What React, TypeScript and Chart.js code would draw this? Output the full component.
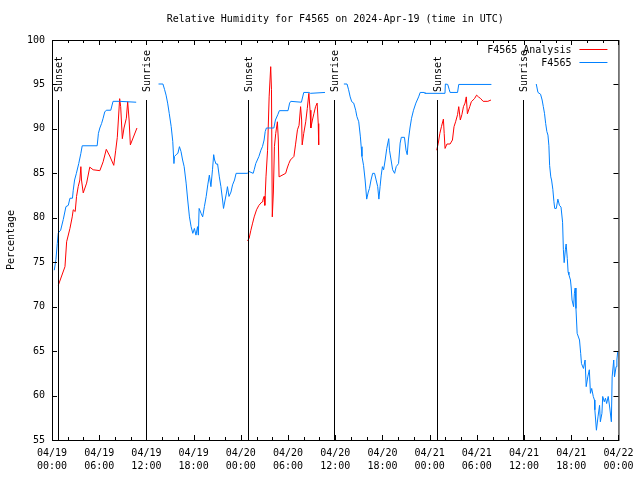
import React, { useEffect, useRef } from 'react';
import { Chart, registerables } from 'chart.js';

Chart.register(...registerables);

const TITLE = 'Relative Humidity for F4565 on 2024-Apr-19 (time in UTC)';
const Y_LABEL = 'Percentage';
const SERIES_NAMES = ['F4565 Analysis', 'F4565'];
const SERIES_COLORS = ['#ff0000', '#0080ff'];
const FONT_FAMILY = '"DejaVu Sans Mono", "Liberation Mono", monospace';

// x axis: hours since 04/19 00:00 UTC
const xTickLabels: string[][] = [
  ['04/19', '00:00'], ['04/19', '06:00'], ['04/19', '12:00'], ['04/19', '18:00'],
  ['04/20', '00:00'], ['04/20', '06:00'], ['04/20', '12:00'], ['04/20', '18:00'],
  ['04/21', '00:00'], ['04/21', '06:00'], ['04/21', '12:00'], ['04/21', '18:00'],
  ['04/22', '00:00'],
];
const X_STEP_HOURS = 6;
const X_MINOR_HOURS = 2;
const Y_MIN = 55;
const Y_MAX = 100;
const Y_STEP = 5;

const eventHours = [0.78, 11.93, 24.85, 35.88, 48.9, 59.92];
const eventLabels = ['Sunset', 'Sunrise', 'Sunset', 'Sunrise', 'Sunset', 'Sunrise'];

// F4565 Analysis (red)
const analysisHours = [
  0.8, 1.65, 1.86, 2.28, 2.57, 2.7, 2.95, 3.12, 3.33, 3.54, 3.67, 3.75, 3.97, 4.4, 4.8, 5.23,
  6.08, 6.5, 6.9, 7.34, 7.85, 8.1, 8.3, 8.6, 8.73, 8.94, 9.15, 9.45, 9.62, 9.8, 9.96, 10.8,
  17,
  24.85, 25.06, 25.28, 25.5, 25.7, 26.0, 26.3, 26.7, 26.8, 26.96, 27.05, 27.2, 27.4, 27.6, 27.8,
  27.9, 28.0, 28.14, 28.27, 28.44, 28.65, 28.77, 28.86, 29.7, 29.9, 30.1, 30.3, 30.75, 30.95,
  31.2, 31.4, 31.6, 31.73, 31.8, 32.0, 32.25, 32.45, 32.65, 32.8, 32.9, 33.1, 33.3, 33.5, 33.7,
  33.84, 33.9,
  41,
  48.9, 49.1, 49.3, 49.5, 49.75, 49.85, 49.96, 50.2, 50.6, 50.9, 51.1, 51.3, 51.55, 51.7, 51.9,
  52.1, 52.3, 52.5, 52.66, 52.8, 53.1, 53.3, 53.7, 53.97, 54.2, 54.5, 54.8, 55.4, 55.8,
];
const analysisValues: (number | null)[] = [
  72.4, 74.5, 77.3, 78.8, 80.1, 80.9, 80.7, 82.4, 83.5, 84.25, 85.75, 84.25, 82.8, 83.9, 85.7, 85.4,
  85.3, 86.3, 87.7, 86.95, 85.9, 87.6, 89.05, 93.4, 92.5, 88.9, 90.1, 91.2, 93.06, 91.0, 88.2, 90.1,
  null,
  77.4, 77.7, 78.6, 79.4, 80.1, 80.9, 81.4, 81.8, 82.0, 82.4, 81.4, 84.6, 87.6, 93.6, 97.0,
  94.4, 80.1, 82.9, 88.0, 89.5, 90.8, 88.75, 84.6, 85.0, 85.6, 86.1, 86.5, 86.9, 88.2,
  89.9, 90.4, 92.5, 91.0, 88.2, 89.5, 90.8, 92.3, 94.0, 92.1, 90.1, 91.0, 91.75, 92.5, 92.9,
  90.6, 88.2,
  null,
  87.6, 88.4, 89.5, 90.25, 91.1, 89.5, 87.8, 88.3, 88.3, 88.75, 90.25, 90.8, 91.6, 92.5, 91.0,
  91.6, 92.5, 92.9, 93.6, 91.7, 92.5, 93.06, 93.4, 93.8, 93.6, 93.4, 93.1, 93.1, 93.25,
];

// F4565 observations (blue)
const stationHours = [
  0.29, 0.5, 0.67, 0.8, 1.1, 1.43, 1.77, 2.07, 2.28, 2.6, 2.7, 2.87, 3.1, 3.4, 3.67, 3.84,
  5.74, 5.9, 6.08, 6.3, 6.5, 6.7, 6.9, 7.47, 7.76, 8.6, 10.7,
  12,
  13.54, 14.1, 14.3, 14.5, 14.7, 14.9, 15.15, 15.35, 15.5, 15.57, 15.78, 16.0, 16.2, 16.4, 16.6,
  16.8, 17.05, 17.25, 17.47, 17.68, 17.9, 18.1, 18.3, 18.5, 18.6, 18.7, 18.95, 19.15, 19.37,
  19.6, 19.8, 20.0, 20.2, 20.4, 20.55, 20.67, 20.85, 21.05, 21.27, 21.47, 21.68, 21.8, 22.0,
  22.2, 22.3, 22.5, 22.75, 22.95, 23.2, 23.4, 24.85, 25.06, 25.57, 25.7, 25.9, 26.1, 26.3,
  26.55, 26.75, 26.96, 27.1, 27.25, 28.2, 28.4, 28.7, 28.9, 30.0, 30.2, 30.35, 31.7, 32.0,
  32.65, 32.85, 34.7,
  36,
  37.1, 37.5, 37.7, 37.9, 38.1, 38.35, 38.6, 38.75, 38.99, 39.2, 39.3, 39.4, 39.6, 39.8, 40.0,
  40.2, 40.35, 40.55, 40.76, 41.0, 41.2, 41.4, 41.55, 41.7, 41.85, 42.0, 42.15, 42.35, 42.55,
  42.8, 42.9, 43.1, 43.3, 43.55, 43.75, 44.05, 44.25, 44.4, 44.8, 45.0, 45.15, 45.3, 45.5,
  45.7, 45.95, 46.25, 46.6, 46.8, 47.3, 47.4, 49.95, 50.0, 50.3, 50.5, 50.6, 51.55, 51.7, 55.85,
  58,
  61.55, 61.77, 62.1, 62.3, 62.45, 62.6, 62.75, 62.9, 63.04, 63.16, 63.25, 63.4, 63.5, 63.66,
  63.8, 63.9, 64.1, 64.3, 64.5, 64.7, 64.9, 65.0, 65.1, 65.25, 65.35, 65.5, 65.6, 65.7, 65.9,
  66.0, 66.1, 66.3, 66.4, 66.5, 66.6, 66.75, 67.05, 67.2, 67.3, 67.55, 67.76, 67.9, 68.1, 68.3,
  68.44, 68.6, 68.8, 68.95, 69.0, 69.2, 69.4, 69.6, 69.7, 69.9, 70.0, 70.2, 70.35, 70.5, 70.7,
  70.9, 71.1, 71.2, 71.4, 71.5, 71.7, 71.8, 71.9,
];
const stationValues: (number | null)[] = [
  74.1, 75.3, 77.1, 78.3, 78.6, 79.8, 81.25, 81.4, 82.2, 82.2, 83.1, 84.25, 85.0, 86.1, 87.25, 88.1,
  88.1, 89.5, 90.1, 90.6, 91.2, 91.9, 92.1, 92.1, 93.1, 93.1, 93.0,
  null,
  95.05, 95.05, 94.45, 93.8, 92.9, 91.75, 90.25, 88.6, 86.1, 86.9, 87.1, 87.25, 88.0, 87.45, 86.5,
  85.75, 83.9, 82.0, 80.1, 79.0, 78.25, 78.8, 78.05, 79.0, 78.05, 81.05, 80.5, 80.1, 81.25,
  82.4, 83.7, 84.8, 83.5, 85.4, 87.1, 86.5, 86.05, 86.05, 84.6, 83.5, 82.0, 81.05, 82.0,
  82.9, 83.5, 82.4, 82.9, 83.7, 84.25, 85.0, 85.0, 85.2, 85.0, 85.4, 86.1, 86.5, 86.9,
  87.6, 88.0, 88.75, 89.7, 90.1, 90.1, 91.0, 91.6, 92.05, 92.05, 92.9, 93.1, 93.0, 94.1,
  94.1, 94.0, 94.1,
  null,
  95.05, 95.05, 94.4, 93.6, 93.06, 92.9, 92.1, 91.4, 90.8, 89.1, 88.0, 86.9, 85.9, 84.25, 82.1,
  82.9, 83.3, 84.25, 85.0, 85.0, 84.25, 83.5, 82.1, 83.5, 84.8, 85.75, 85.4, 86.5, 87.8,
  88.9, 87.6, 86.5, 85.4, 85.0, 85.75, 86.1, 88.4, 89.05, 89.05, 87.6, 87.1, 88.75, 90.1,
  91.2, 92.1, 92.9, 93.6, 94.1, 94.1, 94.0, 94.0, 95.05, 95.0, 94.4, 94.1, 94.1, 95.0, 95.0,
  null,
  95.05, 94.1, 93.9, 93.25, 92.5, 91.75, 90.6, 89.7, 89.3, 88.1, 85.9, 84.6, 84.25, 83.2,
  81.8, 81.05, 81.05, 82.1, 81.4, 81.2, 79.5, 76.4, 74.95, 76.4, 77.05, 75.4, 73.9, 73.6, 73.0,
  72.1, 70.75, 70.0, 71.5, 72.1, 69.8, 67.0, 66.25, 64.75, 63.6, 63.05, 64.0, 61.0, 62.1, 62.9,
  60.25, 60.8, 59.9, 59.5, 58.4, 56.1, 57.6, 58.9, 57.05, 58.0, 59.9, 59.3, 59.7, 59.1, 59.9,
  58.6, 57.05, 62.1, 64.0, 62.1, 63.25, 64.0, 64.9,
];

const toPoints = (hours: number[], values: (number | null)[]) =>
  hours.map((h, i) => ({ x: h, y: values[i] }));

const decorPlugin = {
  id: 'gnuplotDecor',
  afterDatasetsDraw(chart: any) {
    const { ctx, chartArea: a, scales } = chart;
    const xs = scales.x;
    const ys = scales.y;
    const h = a.bottom - a.top;
    ctx.save();
    ctx.strokeStyle = '#000';
    ctx.fillStyle = '#000';
    ctx.lineWidth = 1;
    ctx.font = `10px ${FONT_FAMILY}`;

    // sunrise / sunset markers
    eventHours.forEach((ev, i) => {
      const px = Math.round(xs.getPixelForValue(ev)) + 0.5;
      ctx.beginPath();
      ctx.moveTo(px, a.bottom - 0.85 * h);
      ctx.lineTo(px, a.bottom);
      ctx.stroke();
      ctx.save();
      ctx.translate(px, a.bottom - 0.87 * h);
      ctx.rotate(-Math.PI / 2);
      ctx.textAlign = 'left';
      ctx.textBaseline = 'middle';
      ctx.fillText(eventLabels[i], 0, 1);
      ctx.restore();
    });

    // border
    ctx.strokeRect(a.left + 0.5, a.top + 0.5, a.right - a.left, a.bottom - a.top);

    // x ticks (bottom + top mirror), inward
    const xMin = xs.min;
    const xMax = xs.max;
    for (let t = xMin; t <= xMax + 1e-9; t += X_MINOR_HOURS) {
      const major = Math.abs(t / X_STEP_HOURS - Math.round(t / X_STEP_HOURS)) < 1e-6;
      const len = major ? 5 : 3;
      const px = Math.round(xs.getPixelForValue(t)) + 0.5;
      ctx.beginPath();
      ctx.moveTo(px, a.bottom);
      ctx.lineTo(px, a.bottom - len);
      ctx.moveTo(px, a.top);
      ctx.lineTo(px, a.top + len);
      ctx.stroke();
    }
    // y ticks (left + right mirror), inward
    for (let v = Y_MIN; v <= Y_MAX; v += Y_STEP) {
      const py = Math.round(ys.getPixelForValue(v)) + 0.5;
      ctx.beginPath();
      ctx.moveTo(a.left, py);
      ctx.lineTo(a.left + 5, py);
      ctx.moveTo(a.right, py);
      ctx.lineTo(a.right - 5, py);
      ctx.stroke();
    }

    // legend (top right, inside)
    const rows = [a.top + 9.5, a.top + 22];
    SERIES_NAMES.forEach((name, i) => {
      ctx.fillStyle = '#000';
      ctx.textAlign = 'right';
      ctx.textBaseline = 'middle';
      ctx.fillText(name, a.right - 47, rows[i] + 1);
      ctx.strokeStyle = SERIES_COLORS[i];
      ctx.beginPath();
      const ly = Math.floor(rows[i]) + 0.5;
      ctx.moveTo(a.right - 39, ly);
      ctx.lineTo(a.right - 11, ly);
      ctx.stroke();
    });

    // title
    ctx.fillStyle = '#000';
    ctx.textAlign = 'center';
    ctx.textBaseline = 'middle';
    ctx.fillText(TITLE, (a.left + a.right) / 2, 19);

    // y axis title
    ctx.save();
    ctx.translate(11, (a.top + a.bottom) / 2);
    ctx.rotate(-Math.PI / 2);
    ctx.textAlign = 'center';
    ctx.textBaseline = 'middle';
    ctx.fillText(Y_LABEL, 0, 0);
    ctx.restore();

    ctx.restore();
  },
};

export default function App() {
  const canvasRef = useRef<HTMLCanvasElement | null>(null);

  useEffect(() => {
    const canvas = canvasRef.current;
    if (!canvas) return;
    const chart = new Chart(canvas, {
      type: 'line',
      data: {
        datasets: [
          {
            label: SERIES_NAMES[0],
            data: toPoints(analysisHours, analysisValues),
            borderColor: SERIES_COLORS[0],
            backgroundColor: SERIES_COLORS[0],
            borderWidth: 1,
            pointRadius: 0,
            spanGaps: false,
            order: 1,
          },
          {
            label: SERIES_NAMES[1],
            data: toPoints(stationHours, stationValues),
            borderColor: SERIES_COLORS[1],
            backgroundColor: SERIES_COLORS[1],
            borderWidth: 1,
            pointRadius: 0,
            spanGaps: false,
            order: 0,
          },
        ],
      },
      options: {
        responsive: false,
        animation: false,
        events: [],
        layout: { padding: { top: 40, right: 19, left: 0, bottom: 0 } },
        plugins: {
          legend: { display: false },
          title: { display: false },
          tooltip: { enabled: false },
        },
        elements: { line: { tension: 0 } },
        scales: {
          x: {
            type: 'linear',
            min: 0,
            max: (xTickLabels.length - 1) * X_STEP_HOURS,
            grid: { display: false, drawTicks: false },
            border: { display: false },
            afterFit: (s: any) => {
              s.height = 40;
            },
            ticks: {
              stepSize: X_STEP_HOURS,
              autoSkip: false,
              maxRotation: 0,
              minRotation: 0,
              padding: 6.5,
              color: '#000',
              font: { family: FONT_FAMILY, size: 10, lineHeight: 1.35 },
              callback: (v: any) => xTickLabels[Math.round(Number(v) / X_STEP_HOURS)] as any,
            },
          },
          y: {
            min: Y_MIN,
            max: Y_MAX,
            grid: { display: false, drawTicks: false },
            border: { display: false },
            afterFit: (s: any) => {
              s.width = 52;
            },
            ticks: {
              stepSize: Y_STEP,
              padding: 7,
              color: '#000',
              font: { family: FONT_FAMILY, size: 10 },
            },
          },
        },
      },
      plugins: [decorPlugin],
    });
    return () => chart.destroy();
  }, []);

  return (
    <div style={{ position: 'absolute', left: 0, top: 0, width: 640, height: 480, background: '#fff' }}>
      <canvas ref={canvasRef} width={640} height={480} style={{ display: 'block' }} />
    </div>
  );
}
